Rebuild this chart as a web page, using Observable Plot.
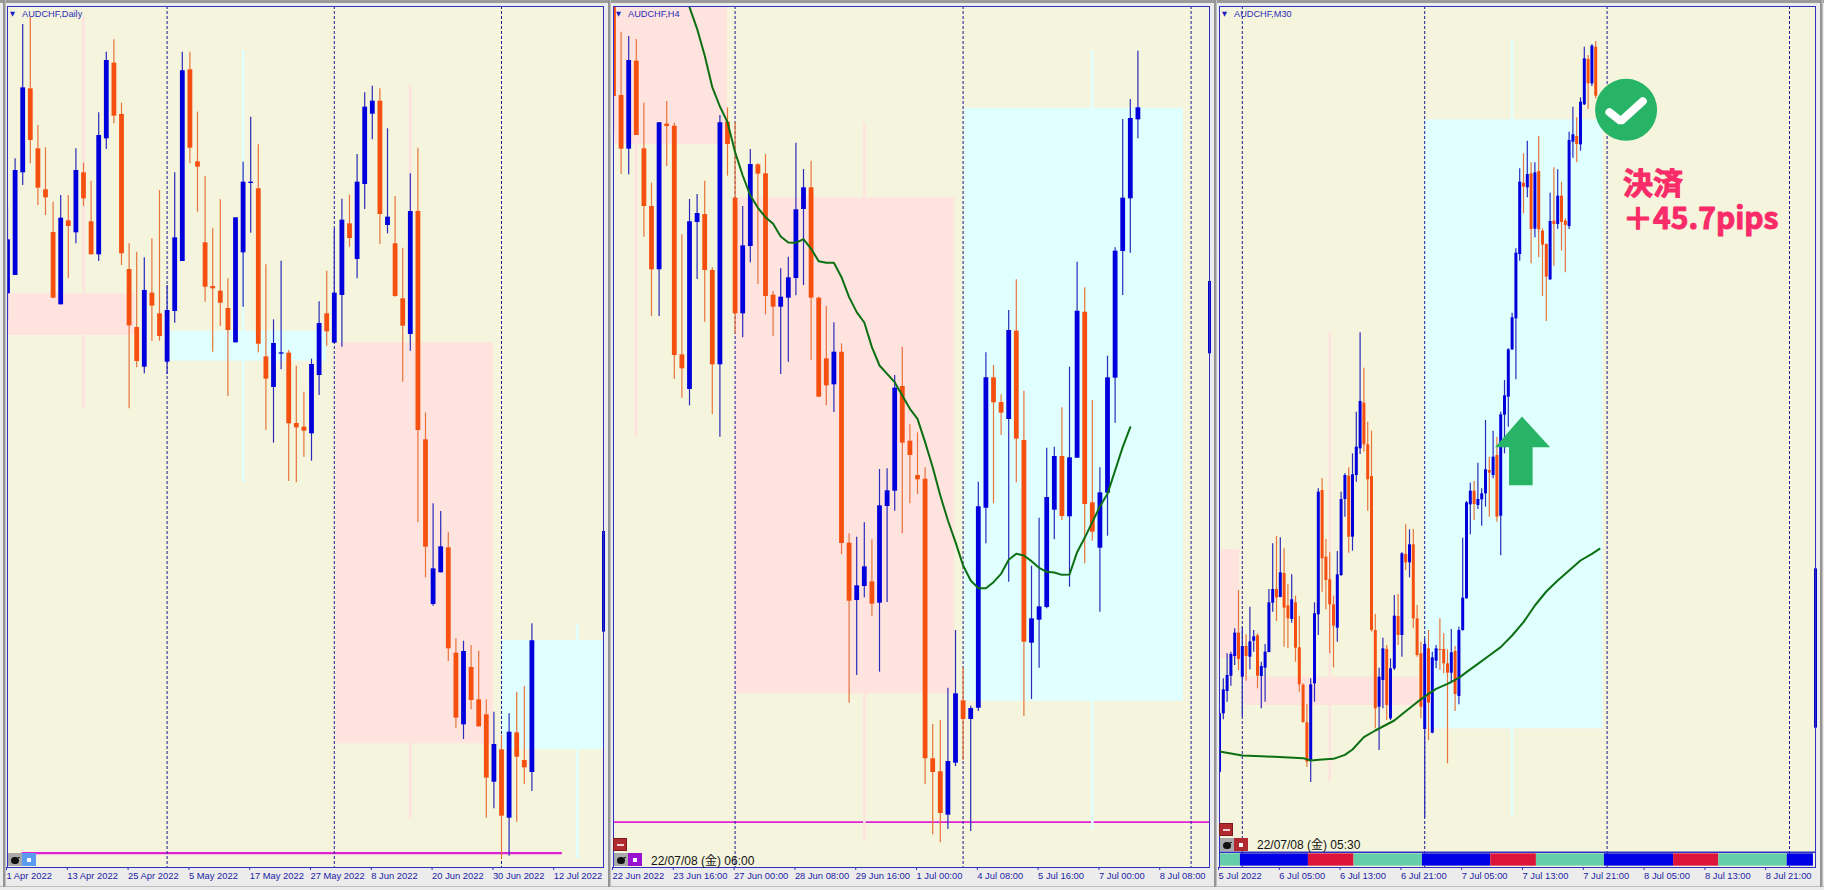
<!DOCTYPE html>
<html lang="ja"><head><meta charset="utf-8">
<script src="https://cdn.jsdelivr.net/npm/d3@7"></script>
<script src="https://cdn.jsdelivr.net/npm/@observablehq/plot@0.6"></script>
<style>
html,body{margin:0;padding:0;width:1824px;height:890px;overflow:hidden;background:#ececec}
.panel{position:absolute;top:0;left:0}
.panel svg{display:block;background:transparent!important}
.sep{position:absolute;top:0;height:887px;width:3px;background:linear-gradient(90deg,#8e8e8e,#9a9a9a 60%,#d8d8d8)}
.top{position:absolute;left:0;top:0;width:1824px;height:3px;background:#9a9a9a}
.bot{position:absolute;left:0;top:886px;width:1824px;height:1px;background:#bdbdbd}
.btn{position:absolute;width:14px;height:13px}
.bomb{background:#a9a9a9}
.bomb:after{content:"";position:absolute;left:3px;top:3.5px;width:7.5px;height:7.5px;border-radius:50%;background:#111;box-shadow:4px -3px 0 -3px #111}
.sq:after{content:"";position:absolute;left:5px;top:4.5px;width:4px;height:4px;background:#fff}
.minus{background:#b02a30;box-shadow:inset 0 0 0 1px #7e1a1e}
.minus:after{content:"";position:absolute;left:3.5px;top:5.5px;width:7px;height:2px;background:#f0d0d0}
.stamp{position:absolute;font:12px/14px "Liberation Sans","Noto Sans CJK JP",sans-serif;color:#111;white-space:pre}
</style></head><body>
<div id="root"></div>
<script>
// ---------- colours ----------
const BLUE = "#0000dc", ORANGE = "#f5500f", WICK_BLUE = "#2a2abc", WICK_ORANGE = "#e8743c";
const PINK = "#ffe3df", CYAN = "#e0ffff", BG = "#f5f4dc", NAVY = "#1c1c96", MAG = "#e022d6", GREEN = "#0c6f12";

// ---------- Daily panel (levels, larger = lower on the chart) ----------
const dailyUp = [1,1,1,0,0,0,0,1,0,1,0,0,1,1,0,0,0,0,1,0,0,1,1,1,0,0,0,0,0,0,1,1,1,0,0,1,1,0,0,0,1,1,0,1,1,0,1,1,1,0,1,0,0,1,0,0,1,1,0,0,1,0,0,0,1,0,1,0,0,1];
const dailyHigh = [620,475,72,50,375,442,605,585,585,445,488,542,337,155,118,308,730,755,772,715,570,855,517,155,155,335,528,685,598,835,652,485,350,433,793,958,782,1050,1097,1175,1076,904,812,685,596,584,462,277,257,265,385,588,743,520,443,1237,1510,1533,1597,1915,1922,1935,1952,2098,2135,2205,2140,2075,2058,1870];
const dailyTop = [718,510,262,265,445,568,696,653,661,510,517,664,405,180,188,342,807,981,870,878,940,930,712,211,208,484,727,858,872,924,652,545,545,565,1069,1029,1057,1058,1269,1280,1092,969,940,878,659,670,545,320,302,302,650,730,895,633,633,1318,1705,1639,1642,1958,1953,2001,2098,2143,2232,2248,2195,2197,2280,1921];
const dailyBottom = [880,825,517,420,563,592,893,913,678,697,595,763,763,415,347,760,976,1083,1100,917,1008,1085,933,783,443,500,860,865,908,990,1027,757,549,1031,1136,1161,1061,1270,1282,1292,1300,1125,994,1028,885,714,777,552,341,642,675,888,977,1002,1290,1640,1812,1717,1945,2153,2173,2100,2179,2333,2345,2447,2453,2270,2302,2316];
const dailyLow = [960,825,555,490,615,645,895,913,835,730,618,763,783,447,370,795,1225,1102,1120,1022,1022,1122,968,783,490,635,905,1055,978,1188,1027,920,698,1057,1290,1328,1108,1443,1447,1370,1382,1185,1037,1028,1040,740,835,627,418,732,700,890,1145,1052,1567,1732,1817,1717,1983,2183,2217,2128,2180,2453,2425,2578,2567,2465,2352,2373];
const dailyZones = [
  {x1:0,x2:16.8,y1:880,y2:1005,fill:PINK},{x1:21.5,x2:42,y1:992,y2:1082,fill:CYAN},
  {x1:43.2,x2:63.9,y1:1027,y2:2230,fill:PINK},{x1:65,x2:78.42,y1:1920,y2:2247,fill:CYAN}];
const dailyGhosts = [{x:10,y1:50,y2:1225,c:PINK},{x:31,y1:150,y2:1447,c:CYAN},{x:53,y1:255,y2:2455,c:PINK},{x:75,y1:1870,y2:2575,c:CYAN}];
const dailySep = [21,43,65];
const dailyLabels = ["1 Apr 2022","13 Apr 2022","25 Apr 2022","5 May 2022","17 May 2022","27 May 2022","8 Jun 2022","20 Jun 2022","30 Jun 2022","12 Jul 2022"];

// ---------- H4 panel ----------
const h4Up = [0,0,1,0,0,0,1,0,0,0,1,1,0,0,1,0,0,1,1,0,0,0,1,1,1,1,0,0,0,1,0,0,1,1,0,1,1,1,0,0,0,0,0,0,1,1,0,1,1,1,0,0,1,0,0,1,1,1,1,0,1,1,0,0,1,1,1,1,1,1];
const h4High = [18,95,108,117,308,548,367,303,368,703,597,582,542,802,345,322,365,618,447,490,462,873,805,770,428,507,482,890,918,967,1030,1600,1610,1567,1618,1407,1405,1125,1040,1273,1297,1402,2172,2160,2063,1890,2002,2117,1445,1057,1095,1183,930,838,1172,1697,1553,1343,1340,1222,1100,785,862,1200,1402,1067,742,357,297,152];
const h4Top = [18,285,180,182,445,618,367,371,377,1063,664,639,642,810,367,365,593,736,492,493,520,884,890,832,628,562,562,893,1075,1055,1055,1628,1756,1699,1744,1516,1471,1163,1158,1322,1425,1436,2275,2314,2283,2080,2101,2124,1519,1132,1132,1206,990,992,1320,1855,1819,1491,1368,1368,1372,932,935,1507,1477,1132,752,593,354,322];
const h4Bottom = [288,446,446,405,618,808,808,378,1065,1105,1167,666,810,1093,1093,432,940,940,738,521,888,920,920,893,834,627,893,1190,1156,1153,1629,1802,1800,1758,1811,1808,1518,1472,1328,1365,1438,2275,2316,2439,2444,2288,2157,2157,2123,1523,1207,1238,1257,1316,1925,1928,1859,1821,1529,1548,1549,1373,1512,1595,1643,1478,1133,753,595,358];
const h4Low = [398,522,523,405,710,948,948,498,1137,1193,1216,837,965,1242,1310,527,1000,1012,787,852,943,1008,1122,1085,886,855,1080,1190,1216,1236,1663,2108,2025,1792,1847,2015,1806,1532,1600,1510,1482,2352,2503,2527,2487,2298,2280,2493,2133,1630,1510,1305,1745,1447,2148,2097,2003,1825,1618,1560,1760,1373,1690,1622,1835,1607,1268,885,758,415];
const h4MaIndex = [10,11,12,13,14,15,16,17,18,19,20,21,22,23,24,25,26,27,28,29,30,31,32,33,34,35,36,37,38,39,40,41,42,43,44,45,46,47,48,49,50,51,52,53,54,55,56,57,58,59,60,61,62,63,64,65,66,67,68];
const h4Ma = [20,85,165,260,318,365,455,525,585,622,650,670,708,726,727,716,745,782,787,787,830,890,935,966,1040,1095,1120,1145,1185,1225,1255,1325,1400,1485,1560,1625,1695,1740,1763,1763,1745,1720,1678,1660,1665,1682,1702,1714,1716,1723,1722,1655,1612,1565,1518,1480,1410,1340,1280];
const h4Zones = [
  {x1:0,x2:15,y1:18,y2:432,fill:PINK},{x1:16,x2:44.9,y1:592,y2:2080,fill:PINK},{x1:46.2,x2:75,y1:323,y2:2102,fill:CYAN}];
const h4Ghosts = [{x:3,y1:432,y2:1310,c:PINK},{x:33,y1:368,y2:2525,c:PINK},{x:63,y1:150,y2:2490,c:CYAN}];
const h4Sep = [16,46,76];
const h4Labels = ["22 Jun 2022","23 Jun 16:00","27 Jun 00:00","28 Jun 08:00","29 Jun 16:00","1 Jul 00:00","4 Jul 08:00","5 Jul 16:00","7 Jul 00:00","8 Jul 08:00"];

// ---------- M30 panel ----------
const m30Up = [1,1,1,1,1,0,1,0,1,1,0,1,1,1,1,0,1,0,0,1,0,0,0,0,1,1,1,0,0,0,0,1,1,1,0,1,1,1,0,0,0,0,1,1,0,1,1,0,1,0,1,0,0,0,1,0,1,1,0,0,0,1,0,1,1,1,1,0,1,1,1,0,1,0,1,1,1,1,1,1,0,1,0,1,0,0,0,1,0,1,0,0,1,1,0,1,1,0,1,0];
const m30High = [2130,2035,1960,1955,1885,1770,1880,1903,1820,1890,1900,1985,1932,1767,1630,1608,1612,1645,1753,1723,1787,1847,2050,2112,2035,1807,1465,1434,1617,1657,1787,1653,1475,1420,1402,1360,1235,997,1103,1265,1292,1842,2003,1913,1935,1975,1785,1782,1657,1573,1588,1587,1815,1925,1915,1890,1955,1935,1855,1900,1948,1887,1938,1880,1613,1503,1448,1443,1388,1465,1260,1370,1292,1310,1235,1140,1045,938,745,505,460,422,487,487,408,685,730,578,502,508,545,655,395,320,352,292,140,165,132,123];
const m30Top = [2140,2068,2025,1962,1898,1898,1938,1938,1924,1909,1906,1998,1955,1807,1767,1767,1717,1719,1816,1798,1807,1942,2054,2167,2053,1840,1475,1470,1670,1738,1813,1723,1497,1425,1427,1423,1340,1203,1208,1333,1428,1890,2030,1945,1947,2005,1847,1848,1660,1662,1633,1633,1855,1960,1932,1945,1972,1945,1947,1947,1990,1957,1953,1890,1793,1507,1472,1472,1497,1480,1408,1410,1370,1365,1243,1186,1048,952,758,545,548,522,520,517,513,692,732,663,662,587,587,662,420,403,408,305,175,177,137,140];
const m30Bottom = [2315,2140,2073,2027,1968,1977,2030,1968,1970,1922,2027,2028,2003,1956,1808,1792,1791,1823,1855,1857,1943,2053,2166,2285,2280,2050,1843,1675,1740,1813,1877,1883,1725,1497,1610,1610,1425,1345,1333,1438,1890,2125,2120,2040,2115,2155,2005,1905,1905,1687,1687,1855,1965,2120,2187,2108,2198,1982,1950,1990,2018,2018,2082,2088,1890,1795,1513,1512,1515,1498,1480,1418,1425,1550,1547,1244,1190,1048,955,762,560,562,687,686,688,734,830,838,672,672,666,675,678,425,432,433,313,250,250,287];
const m30Low = [2320,2158,2105,2057,1995,2010,2150,2042,2008,1955,2065,2125,2105,1957,1835,1863,1792,1940,1945,1868,1985,2075,2168,2300,2346,2105,1905,1775,1828,1960,2002,1925,1728,1550,1658,1652,1445,1362,1355,1532,1895,2185,2250,2125,2160,2160,2010,1935,1970,1710,1732,1885,1970,2155,2453,2220,2200,2005,2010,2020,2290,2050,2133,2113,1892,1795,1603,1560,1527,1577,1520,1550,1435,1565,1666,1360,1280,1050,1138,782,640,592,790,712,772,888,963,840,797,686,752,817,687,473,487,452,315,327,258,295];
const m30MaIndex = [0,6,11,17,22,24,27,30,33,35,38,41,43,46,49,52,55,57,60,63,65,68,71,74,77,80,83,86,89,92,95,98,100];
const m30Ma = [2253,2265,2267,2270,2273,2280,2277,2275,2263,2247,2210,2190,2178,2160,2132,2105,2080,2065,2050,2032,2015,1990,1965,1940,1905,1865,1815,1773,1740,1710,1680,1660,1645];
const m30Zones = [
  {x1:0,x2:5.3,y1:1647,y2:1975,fill:PINK},{x1:6.5,x2:52.6,y1:2030,y2:2115,fill:PINK},{x1:54,x2:101,y1:358,y2:2185,fill:CYAN}];
const m30Ghosts = [{x:29,y1:995,y2:2347,c:PINK},{x:77,y1:120,y2:2450,c:CYAN}];
const m30Sep = [6,54,102,150];
const m30Labels = ["5 Jul 2022","6 Jul 05:00","6 Jul 13:00","6 Jul 21:00","7 Jul 05:00","7 Jul 13:00","7 Jul 21:00","8 Jul 05:00","8 Jul 13:00","8 Jul 21:00"];
const sessionEdges = [0,5.5,23.4,35.4,53.4,71.4,83.4,101.3,119.5,131.4,149.4,156.3];
const sessionColors = ["#66cdaa","#0000e6","#dc143c","#66cdaa","#0000e6","#dc143c","#66cdaa","#0000e6","#dc143c","#66cdaa","#0000e6"];
const arrowIndex = [79.6,87,82.4,82.4,76.2,76.2,72.5];
const arrowLevel = [1248,1340,1340,1454,1454,1340,1340];
const checkIndex = [102.6,105.6,111.4];
const checkLevel = [335,362,302];

function panel(o){
  const n = o.high.length;
  if (o.up.length!==n||o.top.length!==n||o.bottom.length!==n||o.low.length!==n) throw new Error(o.title+" lengths "+[o.up.length,o.high.length,o.top.length,o.bottom.length,o.low.length]);
  const bars = d3.range(n).map(i=>({i,up:o.up[i],h:o.high[i],t:o.top[i],b:o.bottom[i],l:o.low[i]}));
  const tickFmt = d => o.labels[d/o.tickStep];
  const marks = [
    Plot.frame({fill:BG,stroke:"none"}),
    Plot.rect(o.zones,{x1:"x1",x2:"x2",y1:"y1",y2:"y2",fill:"fill",clip:true}),
    ...(o.magenta?[Plot.ruleY([o.magenta.y],{x1:o.magenta.x1,x2:o.magenta.x2,stroke:MAG,strokeWidth:o.magenta.w})]:[]),
    Plot.ruleX(o.ghosts,{x:"x",y1:"y1",y2:"y2",stroke:"c",strokeWidth:2.6}),
    Plot.ruleX(o.sep,{y1:18,y2:2601,stroke:NAVY,strokeWidth:1,strokeDasharray:"3,2"}),
    Plot.ruleX(bars,{x:"i",y1:"h",y2:"l",stroke:d=>d.up?WICK_BLUE:WICK_ORANGE,strokeWidth:1.2,clip:true}),
    Plot.ruleX(bars,{x:"i",y1:"t",y2:"b",stroke:d=>d.up?BLUE:ORANGE,strokeWidth:o.bodyW,clip:true}),
    ...(o.ma?[Plot.line(o.ma.x.map((x,k)=>({x,y:o.ma.y[k]})),{x:"x",y:"y",stroke:GREEN,strokeWidth:2,clip:true})]:[]),
    ...(o.extra||[]),
    Plot.ruleX([o.domainMax],{y1:o.edge[0],y2:o.edge[1],stroke:"#0000c8",strokeWidth:3}),
    Plot.frame({stroke:"#3030c0",strokeWidth:1}),
    Plot.text([o.title],{frameAnchor:"top-left",dx:14.5,dy:4,textAnchor:"start",lineAnchor:"top",fill:"#2c2cb8",fontSize:9.2,fontFamily:"Liberation Sans"}),
    Plot.text(["▼"],{frameAnchor:"top-left",dx:2.5,dy:5,textAnchor:"start",lineAnchor:"top",fill:"#1c1cc0",fontSize:6.5,fontFamily:"DejaVu Sans"}),
    Plot.axisX(o.labels.map((_,k)=>k*o.tickStep),{anchor:"bottom",tickSize:3,tickPadding:1.5,textAnchor:"start",dx:-1,tickFormat:tickFmt,label:null,stroke:"#3030c0",fill:"#1c1ca4",fontSize:9.4,fontFamily:"Liberation Sans"})
  ];
  const el = Plot.plot({
    width:608,height:890,marginLeft:7,marginRight:5,marginTop:6,marginBottom:23,
    x:{type:"linear",domain:[0,o.domainMax]},
    y:{type:"linear",domain:[18,2601],range:[6,867],axis:null},
    marks
  });
  const w = document.createElement("div");
  w.className="panel"; w.style.left=o.left+"px"; w.appendChild(el);
  document.getElementById("root").appendChild(w);
}

const noteStyle = "filter:drop-shadow(0 0 1.2px #fff) drop-shadow(0 0 1.2px #fff) drop-shadow(0 0 1.2px #fff) drop-shadow(1px 2px 1.5px rgba(80,80,80,.7))";
const annotationExtra = [
  Plot.ruleY([2555],{x1:0,x2:156.84,stroke:"#3030c0",strokeWidth:1.5}),
  Plot.rect(sessionColors.map((c,k)=>({c,a:sessionEdges[k],b:sessionEdges[k+1]})),{x1:"a",x2:"b",y1:2560,y2:2597,fill:"c"}),
  Plot.line(arrowIndex.map((x,k)=>({x,y:arrowLevel[k]})),{x:"x",y:"y",fill:"#27b467",stroke:"none"}),
  Plot.dot([{x:107,y:328}],{x:"x",y:"y",r:31,fill:"#27b467",stroke:"none"}),
  Plot.line(checkIndex.map((x,k)=>({x,y:checkLevel[k]})),{x:"x",y:"y",stroke:"#fff",strokeWidth:8,strokeLinejoin:"miter",strokeLinecap:"round"}),
  Plot.text(["決済\n＋45.7pips"],{x:106.2,y:600,textAnchor:"start",lineHeight:1.15,fill:"#f92b69",stroke:"#f92b69",strokeWidth:1,fontSize:30,fontWeight:"bold",fontFamily:"Noto Sans CJK JP",style:noteStyle})
];

panel({left:0,title:"AUDCHF,Daily",up:dailyUp,high:dailyHigh,top:dailyTop,bottom:dailyBottom,low:dailyLow,zones:dailyZones,ghosts:dailyGhosts,sep:dailySep,labels:dailyLabels,tickStep:8,domainMax:78.42,bodyW:4.8,edge:[1593,1895],magenta:{y:2558,x1:1.9,x2:73,w:2.2}});
panel({left:606,title:"AUDCHF,H4",up:h4Up,high:h4High,top:h4Top,bottom:h4Bottom,low:h4Low,zones:h4Zones,ghosts:h4Ghosts,sep:h4Sep,labels:h4Labels,tickStep:8,domainMax:78.42,bodyW:4.8,edge:[843,1060],magenta:{y:2465,x1:0,x2:78.42,w:1.8},ma:{x:h4MaIndex,y:h4Ma}});
panel({left:1212,title:"AUDCHF,M30",up:m30Up,high:m30High,top:m30Top,bottom:m30Bottom,low:m30Low,zones:m30Zones,ghosts:m30Ghosts,sep:m30Sep,labels:m30Labels,tickStep:16,domainMax:156.84,bodyW:3,edge:[1705,2183],ma:{x:m30MaIndex,y:m30Ma},extra:annotationExtra});

// window chrome and terminal buttons
const root=document.getElementById("root");
function add(cls,l,t,bg,txt){const d=document.createElement("div");d.className=cls;d.style.left=l+"px";d.style.top=t+"px";if(bg)d.style.background=bg;if(txt)d.textContent=txt;root.appendChild(d);}
add("top",0,0);add("bot",0,886);
[2.5,608,1214,1820].forEach(x=>add("sep",x,0));
add("btn bomb",8,853);add("btn sq",22,853,"#5b9cf0");
add("btn minus",613,838);add("btn bomb",614,853);add("btn sq",628,853,"#9a10d0");
add("stamp",651,854,null,"22/07/08 (金) 06:00");
add("btn minus",1219,823);add("btn bomb",1220,838);add("btn sq",1234,838,"#b02a30");
add("stamp",1257,838,null,"22/07/08 (金) 05:30");
</script>
</body></html>
